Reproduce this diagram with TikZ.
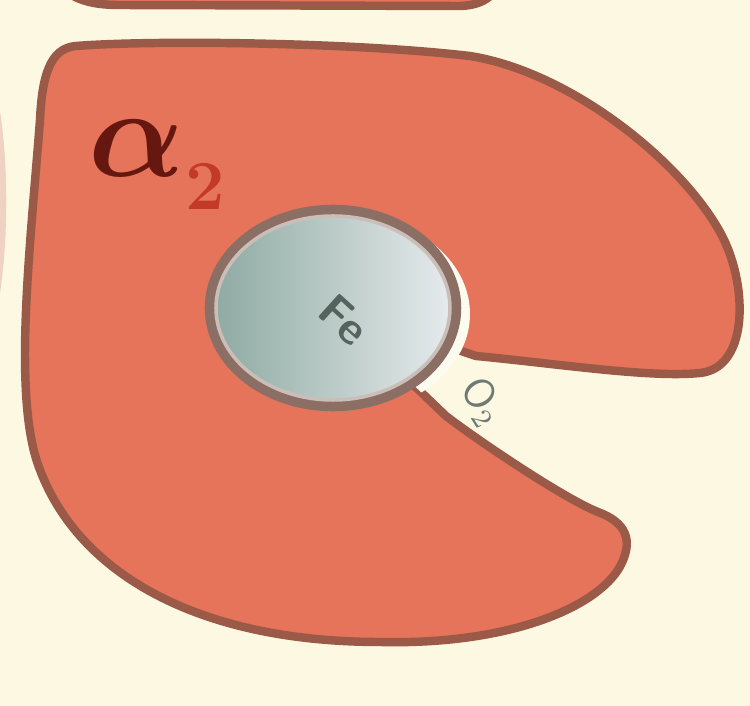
\RequirePackage{fix-cm}
\documentclass[tikz,border=0pt]{standalone}
\usepackage{amsmath,amssymb,bm}
\usepackage{xcolor}
\usepackage{tikz}
\usetikzlibrary{calc}
\definecolor{bg}{HTML}{FCF8E2}
\definecolor{sb}{HTML}{E5745B}
\definecolor{rm}{HTML}{9A5A47}
\definecolor{hd}{HTML}{8DA9A1}
\definecolor{hl}{HTML}{E8ECEE}
\definecolor{hr}{HTML}{8C6F64}
\definecolor{lb}{HTML}{661810}
\definecolor{ix}{HTML}{C43A28}
\definecolor{fe}{HTML}{56625C}
\definecolor{gh}{HTML}{F0D2C2}
\tikzset{
  subunit/.style={fill=sb, draw=rm, line width=2.4pt, line join=round},
  hemering/.style={draw=hr, line width=3pt},
}

\begin{document}
\begin{tikzpicture}[x=0.01cm, y=-0.01cm]
  \fill[bg] (0,0) rectangle (750,706);
  \clip (0,0) rectangle (750,706);

  % neighbouring chains, only their edges show
  \draw[gh, line width=3pt] (-20,55) .. controls (8,120) and (8,280) .. (-20,355);
  \draw[subunit] (40,-40) .. controls (60,-5) and (80,5) .. (120,5)
    -- (460,6) .. controls (490,5) and (500,-10) .. (510,-40) -- cycle;

  % alpha chain with the heme pocket
  \coordinate (pc) at (333,308);
  \draw[subunit] (476,356)
    .. controls (560,364) and (650,378) .. (700,373)
    .. controls (750,368) and (748,282) .. (720,232)
    .. controls (680,160) and (570,72) .. (470,56)
    .. controls (350,42) and (150,40) .. (76,46)
    .. controls (50,48) and (42,76) .. (40,120)
    .. controls (30,250) and (12,400) .. (40,470)
    .. controls (80,575) and (200,642) .. (380,642)
    .. controls (500,645) and (590,612) .. (618,570)
    .. controls (636,540) and (625,522) .. (598,512)
    .. controls (565,499) and (480,442) .. (446,416)
    -- (pc) -- cycle;

  % gap between pocket and heme
  \begin{scope}
    \clip (pc) -- (470,180) -- (640,180) -- (640,530) -- (446,416) -- cycle;
    \fill[bg!50!white] (342,314) ellipse [x radius=128, y radius=100];
  \end{scope}

  % heme disc
  \shade[left color=hd, right color=hl] (pc) ellipse [x radius=123, y radius=98];
  \draw[hemering] (pc) ellipse [x radius=123, y radius=98];
  \draw[hr!45!white, line width=1pt] (pc) ellipse [x radius=117, y radius=92];

  \node[text=fe, rotate=-42, font=\sffamily\bfseries\fontsize{13}{13}\selectfont] (fe) at (344,320) {Fe};
  \node[text=fe!85, rotate=-58, font=\sffamily\fontsize{12}{12}\selectfont] (oxy) at (482,402) {O$_2$};

  \node[text=lb, font=\fontsize{36}{36}\selectfont] (alpha) at (137,148) {$\bm{\alpha}$};
  \node[text=ix, font=\bfseries\fontsize{20}{20}\selectfont] (idx) at ($(alpha.east)+(8,38)$) {2};
\end{tikzpicture}
\end{document}
